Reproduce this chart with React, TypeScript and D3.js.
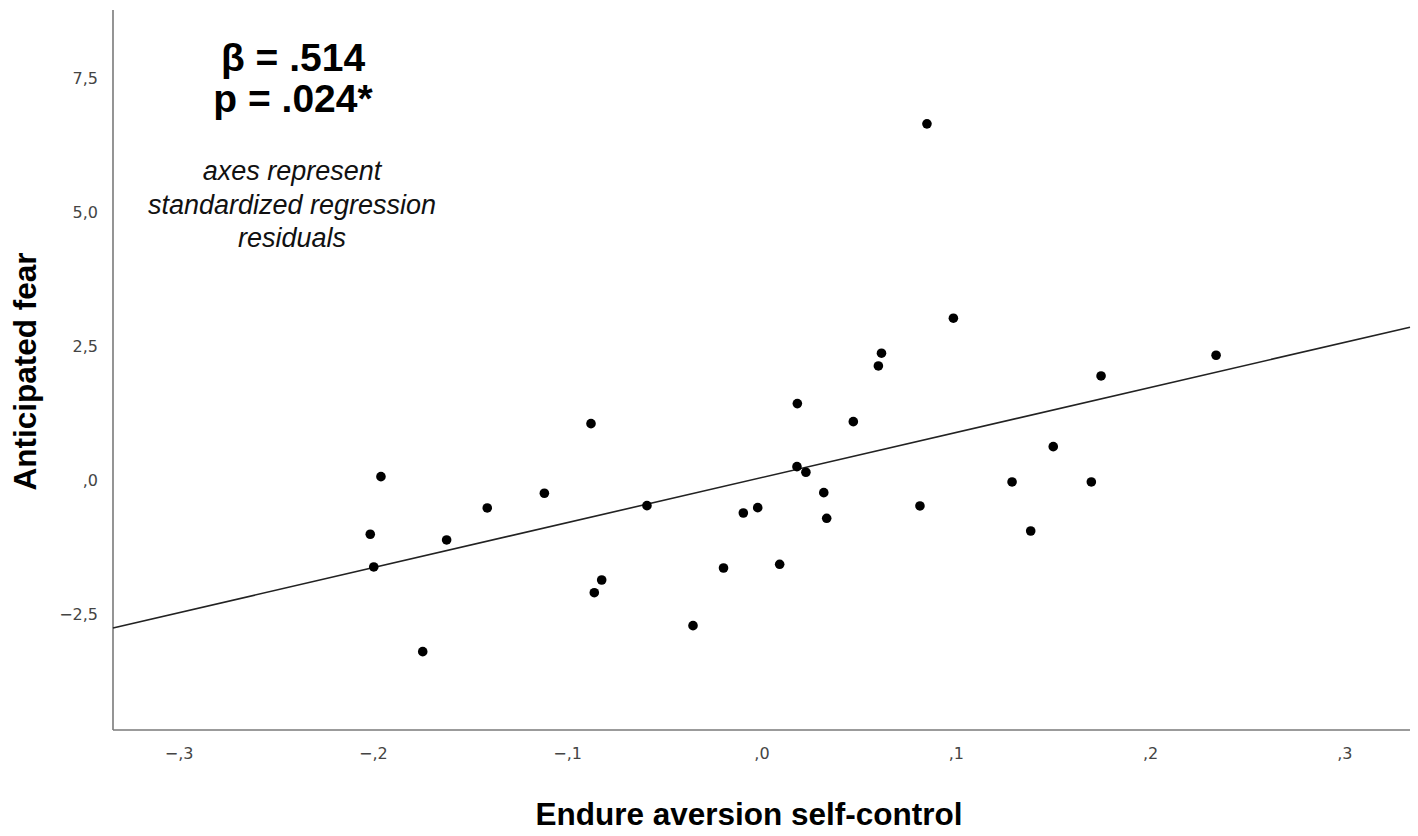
import React from "react";
import * as d3 from "d3";

const xValues = [
  -0.1961, -0.2016, -0.1998, -0.1746, -0.1623, -0.1414, -0.112, -0.088, -0.0825, -0.0863,
  -0.0592, -0.0355, -0.0198, -0.0096, -0.0022, 0.0091, 0.0182, 0.018, 0.0226, 0.0318,
  0.0333, 0.047, 0.0615, 0.0599, 0.0813, 0.0849, 0.0985, 0.1287, 0.1383, 0.1499,
  0.1695, 0.1745, 0.2337,
];
const yValues = [
  0.076, -0.999, -1.609, -3.189, -1.105, -0.508, -0.234, 1.064, -1.852, -2.089,
  -0.465, -2.704, -1.628, -0.602, -0.503, -1.559, 1.438, 0.262, 0.158, -0.223,
  -0.701, 1.102, 2.378, 2.141, -0.471, 6.656, 3.031, -0.023, -0.938, 0.635,
  -0.023, 1.954, 2.34,
];
const xTicks = [-0.3, -0.2, -0.1, 0, 0.1, 0.2, 0.3];
const xTickLabels = ["\u2212,3", "\u2212,2", "\u2212,1", ",0", ",1", ",2", ",3"];
const yTicks = [-2.5, 0, 2.5, 5, 7.5];
const yTickLabels = ["\u22122,5", ",0", "2,5", "5,0", "7,5"];
const xDomain = [-0.334, 0.3335];
const yDomain = [-4.65, 8.78];
const fitLine = [
  { x: -0.334, y: -2.747 },
  { x: 0.3335, y: 2.863 },
];
const statLines = ["\u03b2 = .514", "p = .024*"];
const noteLines = ["axes represent", "standardized regression", "residuals"];
const xTitle = "Endure aversion self-control";
const yTitle = "Anticipated fear";

export default function App() {
  const W = 1418;
  const H = 836;
  const left = 113;
  const right = 1410;
  const top = 10;
  const bottom = 730;
  const x = d3.scaleLinear().domain(xDomain).range([left, right]);
  const y = d3.scaleLinear().domain(yDomain).range([bottom, top]);
  const line = d3
    .line<{ x: number; y: number }>()
    .x((d) => x(d.x))
    .y((d) => y(d.y));
  const tickFont = "'DejaVu Sans', sans-serif";
  const titleFont = "'Liberation Sans', Arial, sans-serif";
  return (
    <svg
      width={W}
      height={H}
      style={{ position: "absolute", left: 0, top: 0, background: "#fff" }}
    >
      <rect x={0} y={0} width={W} height={H} fill="#fff" />
      <line x1={left} y1={top} x2={left} y2={bottom} stroke="#7a7a7a" strokeWidth={1.6} />
      <line x1={left} y1={bottom} x2={right} y2={bottom} stroke="#7a7a7a" strokeWidth={1.6} />
      {yTicks.map((t, i) => (
        <text
          key={"y" + i}
          x={left - 15}
          y={y(t)}
          dy="0.36em"
          textAnchor="end"
          fontFamily={tickFont}
          fontSize={16}
          fill="#444"
        >
          {yTickLabels[i]}
        </text>
      ))}
      {xTicks.map((t, i) => (
        <text
          key={"x" + i}
          x={x(t)}
          y={753}
          dy="0.36em"
          textAnchor="middle"
          fontFamily={tickFont}
          fontSize={16}
          fill="#444"
        >
          {xTickLabels[i]}
        </text>
      ))}
      <path d={line(fitLine) || ""} fill="none" stroke="#222" strokeWidth={1.6} />
      {xValues.map((xv, i) => (
        <circle key={"p" + i} cx={x(xv)} cy={y(yValues[i])} r={4.8} fill="#000" />
      ))}
      <text
        x={749}
        y={825}
        textAnchor="middle"
        fontFamily={titleFont}
        fontWeight="bold"
        fontSize={31.5}
        fill="#000"
      >
        {xTitle}
      </text>
      <text
        transform={`translate(36,371.5) rotate(-90)`}
        textAnchor="middle"
        fontFamily={titleFont}
        fontWeight="bold"
        fontSize={31.5}
        fill="#000"
      >
        {yTitle}
      </text>
      {statLines.map((s, i) => (
        <text
          key={"s" + i}
          x={293}
          y={71 + i * 41}
          textAnchor="middle"
          fontFamily={titleFont}
          fontWeight="bold"
          fontSize={39}
          fill="#000"
        >
          {s}
        </text>
      ))}
      {noteLines.map((s, i) => (
        <text
          key={"n" + i}
          x={292}
          y={180 + i * 33.5}
          textAnchor="middle"
          fontFamily={titleFont}
          fontStyle="italic"
          fontSize={27}
          fill="#111"
        >
          {s}
        </text>
      ))}
    </svg>
  );
}
